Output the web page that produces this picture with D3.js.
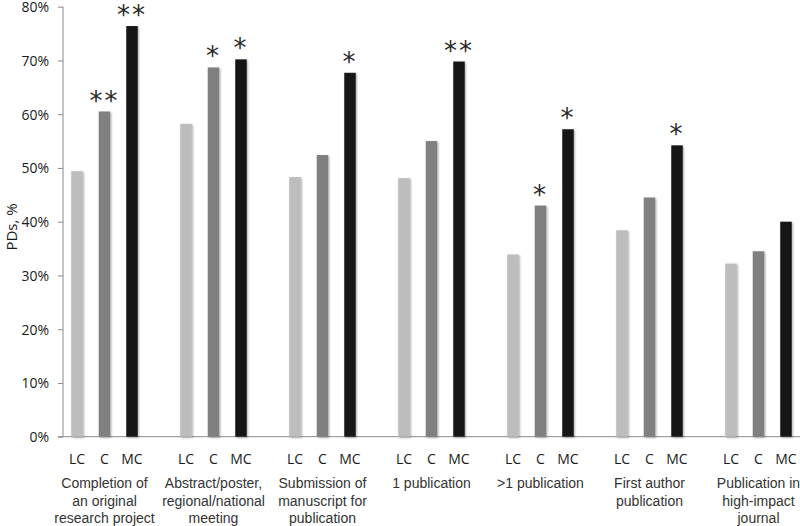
<!DOCTYPE html>
<html>
<head>
<meta charset="utf-8">
<script src="https://cdn.jsdelivr.net/npm/d3@7"></script>
<style>
  html, body { margin: 0; padding: 0; background: #fff; }
  svg { display: block; }
</style>
</head>
<body>
<svg id="chart" width="800" height="526"></svg>
<script>
// ---- data ----
const groups = [
  "Completion of|an original|research project",
  "Abstract/poster,|regional/national|meeting",
  "Submission of|manuscript for|publication",
  "1 publication",
  ">1 publication",
  "First author|publication",
  "Publication in|high-impact|journal"
];
const seriesNames = ["LC", "C", "MC"];
const lcValues = [49.4, 58.2, 48.3, 48.1, 33.9, 38.4, 32.2];
const cValues  = [60.5, 68.7, 52.4, 55.0, 43.0, 44.5, 34.5];
const mcValues = [76.4, 70.2, 67.7, 69.8, 57.2, 54.2, 40.0];
const lcSig = ["", "", "", "", "", "", ""];
const cSig  = ["**", "*", "", "", "*", "", ""];
const mcSig = ["**", "*", "*", "**", "*", "*", ""];
const yTicks = [0, 10, 20, 30, 40, 50, 60, 70, 80];
const yLabel = "PDs, %";

const seriesValues = [lcValues, cValues, mcValues];
const seriesSig = [lcSig, cSig, mcSig];
const colors = ["#bdbdbd", "#808080", "#191919"];

// ---- layout ----
const svg = d3.select("#chart");
const axisX = 63, plotTop = 6.7, plotBottom = 436.7;
const step = 109;
const firstCenter = 104.5;
const y = d3.scaleLinear().domain([0, 80]).range([plotBottom, plotTop]);
const x0 = d3.scaleBand().domain(groups)
  .range([firstCenter - step / 2, firstCenter - step / 2 + step * groups.length])
  .paddingInner(0).paddingOuter(0);
const x1 = d3.scalePoint().domain(seriesNames).range([27, 82]);
const barW = 11.5;

const defs = svg.append("defs");
const f = defs.append("filter").attr("id", "sh").attr("x", "-30%").attr("y", "-5%").attr("width", "160%").attr("height", "110%");
f.append("feGaussianBlur").attr("in", "SourceAlpha").attr("stdDeviation", 0.9).attr("result", "b");
f.append("feOffset").attr("in", "b").attr("dx", 0.5).attr("dy", 0.5).attr("result", "o");
f.append("feComponentTransfer").attr("in", "o").attr("result", "o2")
  .append("feFuncA").attr("type", "linear").attr("slope", 0.35);
const m = f.append("feMerge");
m.append("feMergeNode").attr("in", "o2");
m.append("feMergeNode").attr("in", "SourceGraphic");

// y axis
const yAxis = d3.axisLeft(y).tickValues(yTicks).tickSize(5).tickPadding(9)
  .tickFormat(d => d + "%");
const gy = svg.append("g").attr("transform", `translate(${axisX},0)`).call(yAxis);
gy.select(".domain").attr("stroke", "#8a8a8a").attr("d", `M0,${plotTop}V${plotBottom}`);
gy.selectAll(".tick line").attr("stroke", "#8a8a8a");
gy.selectAll(".tick text").attr("font-family", "'Open Sans', sans-serif")
  .attr("font-size", 14).attr("fill", "#1a1a1a").attr("dy", "0.36em");

// x axis baseline
svg.append("line").attr("x1", axisX - 5).attr("x2", 800)
  .attr("y1", plotBottom).attr("y2", plotBottom).attr("stroke", "#8a8a8a");

// bars
const data = [];
groups.forEach((g, gi) => {
  seriesNames.forEach((s, si) => {
    data.push({ g, s, si, v: seriesValues[si][gi], sig: seriesSig[si][gi] });
  });
});

const bars = svg.append("g");
bars.selectAll("rect").data(data).join("rect")
  .attr("x", d => x0(d.g) + x1(d.s) - barW / 2)
  .attr("width", barW)
  .attr("y", d => y(d.v))
  .attr("height", d => y(0) - y(d.v))
  .attr("fill", d => colors[d.si])
  .attr("filter", "url(#sh)");

// significance stars
svg.append("g").selectAll("text").data(data.filter(d => d.sig)).join("text")
  .attr("x", d => x0(d.g) + x1(d.s))
  .attr("y", d => y(d.v) - 2)
  .attr("text-anchor", "middle")
  .attr("font-family", "'DejaVu Sans', sans-serif")
  .attr("font-size", 26)
  .attr("letter-spacing", 2)
  .attr("fill", "#2a2a2a")
  .text(d => d.sig);

// series labels under bars
svg.append("g").selectAll("text").data(data).join("text")
  .attr("x", d => x0(d.g) + x1(d.s))
  .attr("y", 459)
  .attr("dy", "0.35em")
  .attr("text-anchor", "middle")
  .attr("font-family", "'Open Sans', sans-serif")
  .attr("font-size", 14)
  .attr("fill", "#1a1a1a")
  .text(d => d.s);

// group labels
const gl = svg.append("g").selectAll("text").data(groups).join("text")
  .attr("text-anchor", "middle")
  .attr("font-family", "'Liberation Sans', Arial, sans-serif")
  .attr("font-size", 14)
  .attr("fill", "#333");
gl.each(function(g) {
  const lines = g.split("|");
  d3.select(this).selectAll("tspan").data(lines).join("tspan")
    .attr("x", x0(g) + x0.bandwidth() / 2)
    .attr("y", (d, i) => 488 + i * 17.5)
    .text(d => d);
});

// y label
svg.append("text")
  .attr("transform", `translate(17,227) rotate(-90)`)
  .attr("text-anchor", "middle")
  .attr("font-family", "'Open Sans', sans-serif")
  .attr("font-size", 15)
  .attr("fill", "#1a1a1a")
  .text(yLabel);
</script>
</body>
</html>
